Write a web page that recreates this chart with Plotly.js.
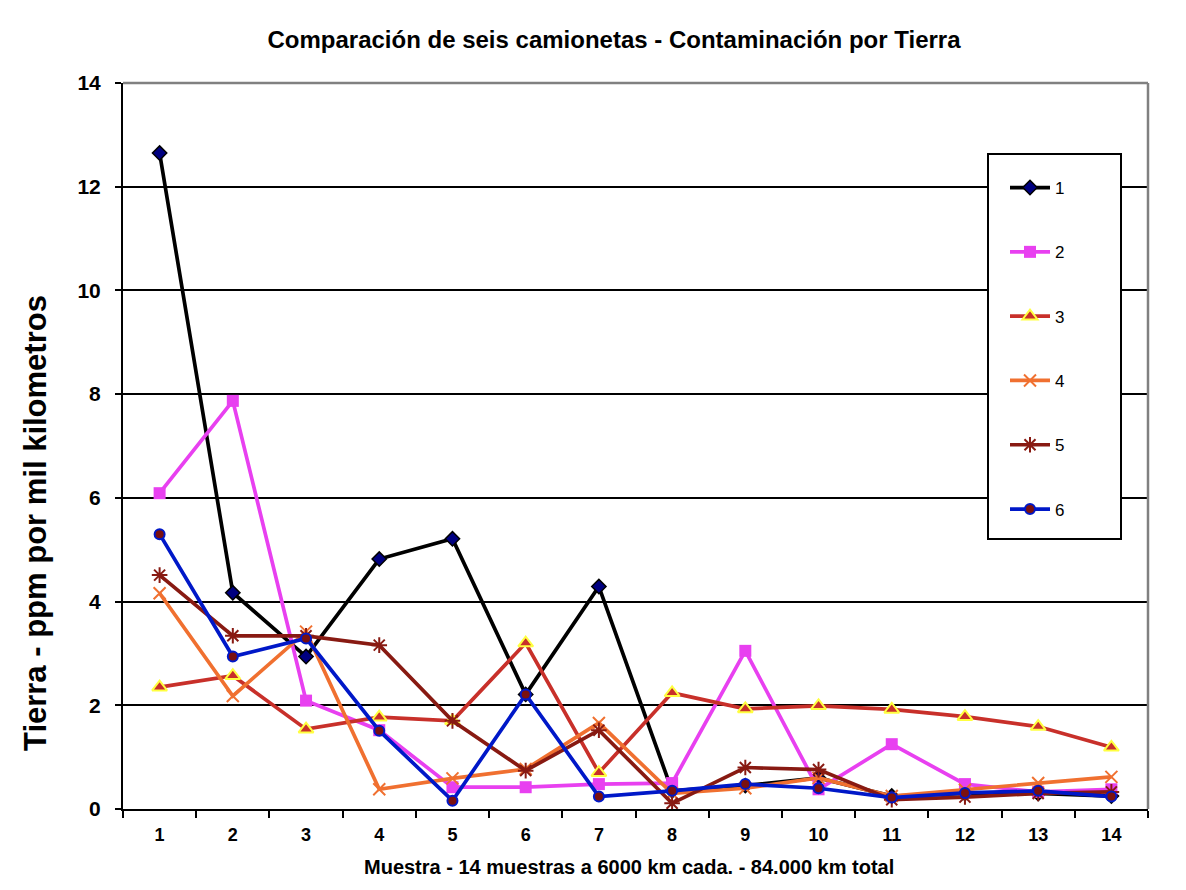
<!DOCTYPE html>
<html>
<head>
<meta charset="utf-8">
<script src="https://cdn.plot.ly/plotly-3.0.1.min.js"></script>
<style>html,body{margin:0;padding:0;background:#fff}#chart{width:1186px;height:890px}</style>
</head>
<body>
<div id="chart"></div>
<script>
const muestras = [1,2,3,4,5,6,7,8,9,10,11,12,13,14];
const serie1 = [12.65,4.17,2.94,4.82,5.21,2.21,4.29,0.35,0.45,0.6,0.25,0.3,0.3,0.25];
const serie2 = [6.09,7.87,2.09,1.52,0.42,0.42,0.48,0.5,3.05,0.38,1.25,0.48,0.33,0.38];
const serie3 = [2.35,2.57,1.54,1.77,1.70,3.2,0.70,2.24,1.93,1.99,1.92,1.78,1.59,1.19];
const serie4 = [4.16,2.18,3.42,0.38,0.59,0.77,1.66,0.3,0.4,0.6,0.25,0.37,0.5,0.62];
const serie5 = [4.51,3.34,3.34,3.16,1.70,0.74,1.52,0.11,0.8,0.76,0.18,0.23,0.3,0.33];
const serie6 = [5.3,2.94,3.29,1.51,0.16,2.21,0.24,0.35,0.48,0.4,0.22,0.31,0.35,0.24];
const nombres = ['1','2','3','4','5','6'];

const FONT = 'Arial, "Liberation Sans", sans-serif';

function tr(y, name, lineColor, marker){
  return {x: muestras, y: y, name: name, legendgroup: name, type: 'scatter', mode: 'lines+markers',
          line: {color: lineColor, width: 3.7}, marker: marker};
}

const data = [
  tr(serie1, nombres[0], '#000000', {symbol:'diamond', size:11, color:'#000080', line:{color:'#000000', width:1.5}}),
  tr(serie2, nombres[1], '#E840F0', {symbol:'square', size:12, color:'#E840F0', line:{width:0}}),
  tr(serie3, nombres[2], '#C8302A', {symbol:'triangle-up', size:13, color:'#C8302A', line:{color:'#FFFF40', width:2}}),
  tr(serie4, nombres[3], '#F07030', {symbol:'x-thin-open', size:12, color:'#F07030', line:{color:'#F07030', width:2}}),
  tr(serie5, nombres[4], '#881A12', {symbol:'asterisk-open', size:13, color:'#881A12', line:{color:'#881A12', width:2}}),
  tr(serie6, nombres[5], '#0018C8', {symbol:'circle', size:10, color:'#7A1010', line:{color:'#0018C8', width:2}})
];

const L = 123, R = 1148, T = 83, B = 809;
const px2x = p => (p - L) / (R - L);
const px2y = p => (B - p) / (B - T);

const layout = {
  width: 1186, height: 890,
  margin: {l: L, r: 1186 - R, t: T, b: 890 - B},
  paper_bgcolor: '#ffffff', plot_bgcolor: '#ffffff',
  font: {family: FONT, color: '#000000'},
  title: {text: 'Comparación de seis camionetas - Contaminación por Tierra',
          font: {size: 24, weight: 'bold', family: FONT},
          xref: 'container', x: 614/1186, xanchor: 'center', yref: 'container', y: 1 - 40/890, yanchor: 'middle'},
  xaxis: {range: [0.5, 14.5], tickmode: 'array', tickvals: muestras, ticktext: muestras.map(String),
          ticks: '', showgrid: false, zeroline: false, showline: true, linecolor: '#000000', linewidth: 2,
          tickfont: {size: 18, weight: 'bold', family: FONT}, ticklabelstandoff: 8,
          minor: {ticks: 'outside', tick0: 0.5, dtick: 1, ticklen: 7, tickwidth: 2, tickcolor: '#000000', showgrid: false},
          fixedrange: true},
  yaxis: {range: [0, 14], dtick: 2, tick0: 0, ticks: 'outside', ticklen: 6, tickwidth: 2, tickcolor: '#000000',
          showgrid: true, gridcolor: '#000000', gridwidth: 2, zeroline: false,
          showline: true, linecolor: '#000000', linewidth: 2,
          tickfont: {size: 21, weight: 'bold', family: FONT}, ticklabelstandoff: 10, fixedrange: true},
  showlegend: true,
  legend: {x: px2x(1005), y: px2y(170), xanchor: 'left', yanchor: 'top', bgcolor: 'rgba(0,0,0,0)', borderwidth: 0,
           font: {size: 17, family: FONT}, tracegroupgap: 39.2, traceorder: 'grouped', itemwidth: 40},
  shapes: [
    {type: 'line', xref: 'paper', yref: 'paper', x0: 0, x1: 1, y0: 1, y1: 1, line: {color: '#808080', width: 2.5}, layer: 'above'},
    {type: 'line', xref: 'paper', yref: 'paper', x0: 1, x1: 1, y0: 0, y1: 1, line: {color: '#808080', width: 2.5}, layer: 'above'},
    {type: 'rect', xref: 'paper', yref: 'paper', x0: px2x(988), x1: px2x(1121), y0: px2y(539), y1: px2y(154),
     line: {color: '#000000', width: 2}, fillcolor: '#ffffff', layer: 'above'}
  ],
  annotations: [
    {text: 'Muestra - 14 muestras a 6000 km cada. - 84.000 km total', xref: 'paper', yref: 'paper',
     x: px2x(629), y: px2y(867), xanchor: 'center', yanchor: 'middle', showarrow: false,
     font: {size: 20, weight: 'bold', family: FONT}},
    {text: 'Tierra - ppm por mil kilometros', xref: 'paper', yref: 'paper',
     x: px2x(35), y: px2y(523), xanchor: 'center', yanchor: 'middle', showarrow: false, textangle: -90,
     font: {size: 31, weight: 'bold', family: FONT}}
  ]
};

Plotly.newPlot('chart', data, layout, {displayModeBar: false, staticPlot: true});
</script>
</body>
</html>
